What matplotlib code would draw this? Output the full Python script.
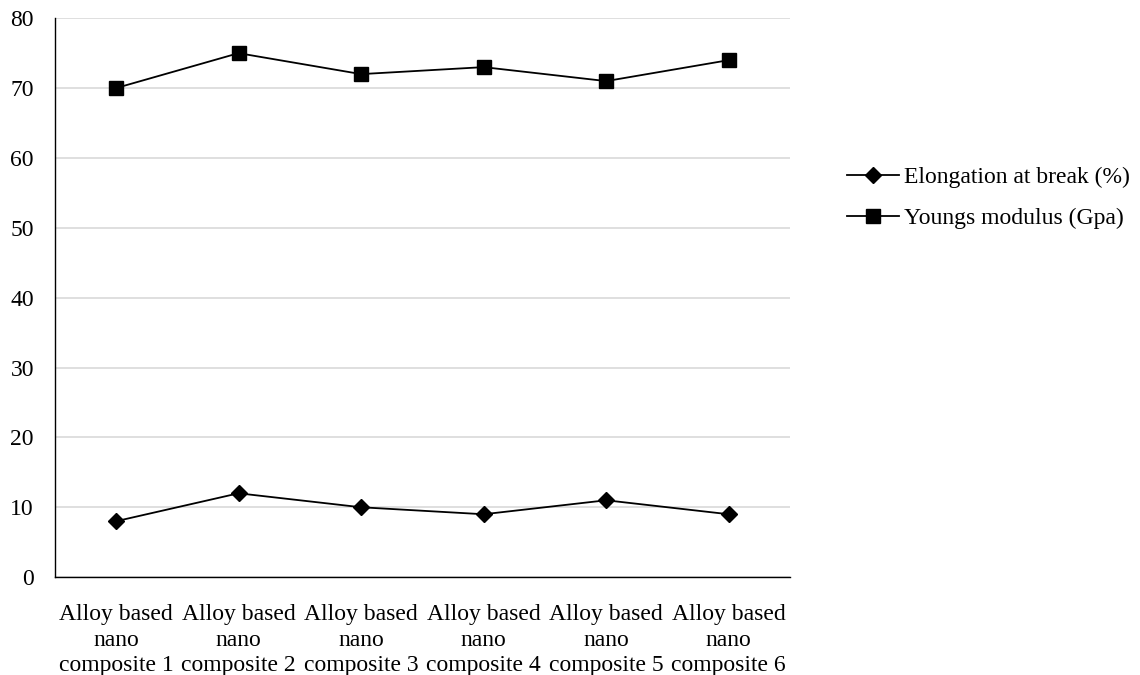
import matplotlib.pyplot as plt
import numpy as np

plt.rcParams['font.family'] = ['Liberation Serif', 'DejaVu Serif']

# Próbki kompozytów i zmierzone właściwości
kategorie = ["Alloy based\nnano\ncomposite 1", "Alloy based\nnano\ncomposite 2",
             "Alloy based\nnano\ncomposite 3", "Alloy based\nnano\ncomposite 4",
             "Alloy based\nnano\ncomposite 5", "Alloy based\nnano\ncomposite 6"]
wydluzenie = [8, 12, 10, 9, 11, 9]
modul_younga = [70, 75, 72, 73, 71, 74]

fig = plt.figure(figsize=(11.4, 6.75), dpi=100)
ax = fig.add_axes([0.048, 0.145, 0.645, 0.828])

x = np.arange(len(kategorie))
ax.plot(x, wydluzenie, color='black', lw=1.3, marker='D', markersize=8.5,
        label='Elongation at break (%)')
ax.plot(x, modul_younga, color='black', lw=1.3, marker='s', markersize=10,
        label='Youngs modulus (Gpa)')

ax.set_xlim(-0.5, len(kategorie) - 0.5)
ax.set_ylim(0, 80)
ax.set_yticks(np.arange(0, 81, 10))
ax.set_xticks(x)
ax.set_xticklabels(kategorie, fontsize=17, linespacing=1.28)
ax.tick_params(axis='y', labelsize=17, length=0, pad=15)
ax.tick_params(axis='x', length=0, pad=19.5)

ax.grid(axis='y', color='#d9d9d9', lw=1.2)
ax.set_axisbelow(True)
for s in ['top', 'right']:
    ax.spines[s].set_visible(False)
for s in ['left', 'bottom']:
    ax.spines[s].set_color('black')
    ax.spines[s].set_linewidth(1.0)

ax.legend(loc='center left', bbox_to_anchor=(1.049, 0.679), frameon=False,
          fontsize=17, handlelength=2.2, handletextpad=0.2, labelspacing=0.83)

fig.savefig('out.png', dpi=100)
